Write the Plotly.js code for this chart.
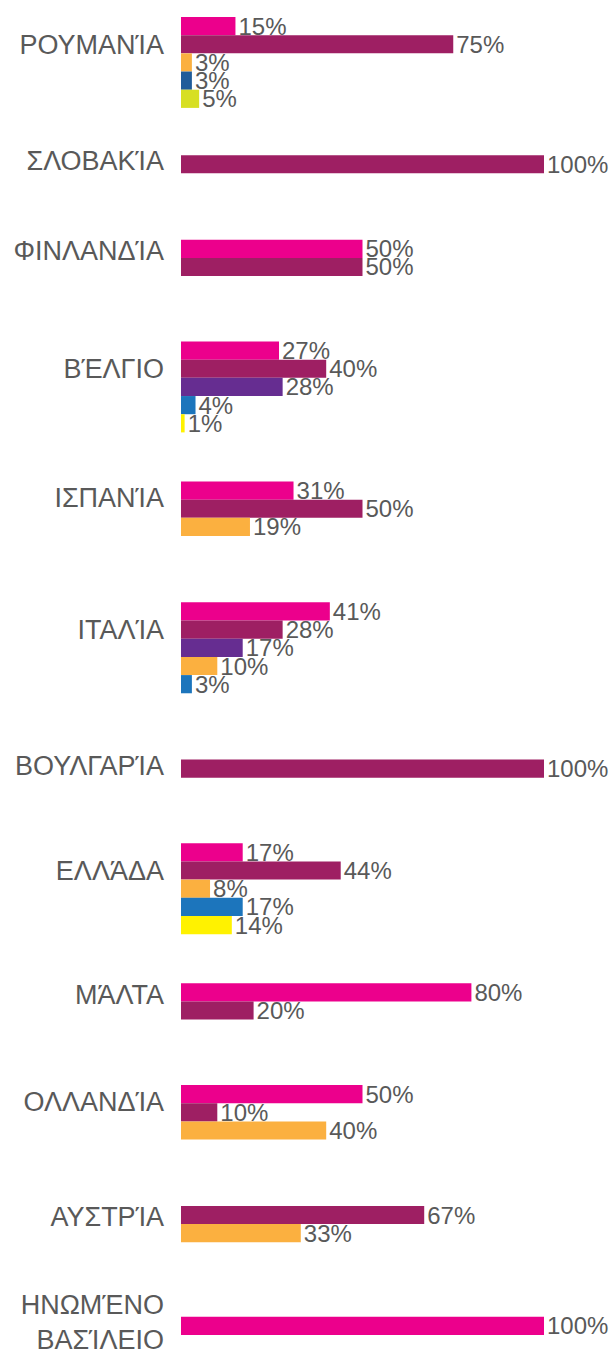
<!DOCTYPE html>
<html>
<head>
<meta charset="utf-8">
<script src="https://cdn.plot.ly/plotly-3.0.1.min.js"></script>
<style>html,body{margin:0;padding:0;background:#fff;}#chart{width:613px;height:1360px;}</style>
</head>
<body>
<div id="chart"></div>
<script>
// ---- data ----
const categories = ["ΡΟΥΜΑΝΊΑ", "ΣΛΟΒΑΚΊΑ", "ΦΙΝΛΑΝΔΊΑ", "ΒΈΛΓΙΟ", "ΙΣΠΑΝΊΑ", "ΙΤΑΛΊΑ", "ΒΟΥΛΓΑΡΊΑ", "ΕΛΛΆΔΑ", "ΜΆΛΤΑ", "ΟΛΛΑΝΔΊΑ", "ΑΥΣΤΡΊΑ", "ΗΝΩΜΈΝΟ<br>ΒΑΣΊΛΕΙΟ"];
const seriesNames = ["Σειρά 1", "Σειρά 2", "Σειρά 3", "Σειρά 4", "Σειρά 5", "Σειρά 6", "Σειρά 7", "Σειρά 8"];
const magentaVals = [15, 0, 50, 27, 31, 41, 0, 17, 80, 50, 0, 100];
const darkVals    = [75, 100, 50, 40, 50, 28, 100, 44, 20, 10, 67, 0];
const purpleVals  = [0, 0, 0, 28, 0, 17, 0, 0, 0, 0, 0, 0];
const orangeVals  = [3, 0, 0, 0, 19, 10, 0, 8, 0, 40, 33, 0];
const blueVals    = [0, 0, 0, 4, 0, 3, 0, 17, 0, 0, 0, 0];
const navyVals    = [3, 0, 0, 0, 0, 0, 0, 0, 0, 0, 0, 0];
const limeVals    = [5, 0, 0, 0, 0, 0, 0, 0, 0, 0, 0, 0];
const yellowVals  = [0, 0, 0, 1, 0, 0, 0, 14, 0, 0, 0, 0];

// ---- styles / layout ----
const seriesValues = [magentaVals, darkVals, purpleVals, orangeVals, blueVals, navyVals, limeVals, yellowVals];
const seriesColors = ["#EC008C", "#9E1F63", "#662D91", "#FBB040", "#1C75BC", "#1F5C9A", "#D7DF23", "#FFF200"];
const groupGapRows = [2.6, 3.65, 3.6, 2.7, 3.65, 3.65, 3.6, 2.7, 3.6, 3.65, 4.1];
const textColor = "#595959";
const fontFam = "Liberation Sans, Arial, Helvetica, sans-serif";

// assign each non-zero bar its own row, groups separated by gaps
const traceY = seriesValues.map(() => []);
const traceX = seriesValues.map(() => []);
const tickVals = [];
let pos = 0;
categories.forEach((cat, i) => {
  if (i > 0) pos += groupGapRows[i - 1];
  const start = pos;
  let n = 0;
  seriesValues.forEach((vals, s) => {
    if (vals[i] > 0) {
      traceY[s].push(pos + 0.5);
      traceX[s].push(vals[i]);
      pos += 1; n += 1;
    }
  });
  const center = (start + pos) / 2;
  tickVals.push(center - 0.2 * (n - 1) - 0.2);
});

const traces = seriesValues.map((vals, s) => ({
  type: "bar",
  orientation: "h",
  name: seriesNames[s],
  x: traceX[s],
  y: traceY[s],
  width: 1,
  marker: {color: seriesColors[s], line: {width: 0}},
  texttemplate: "%{x}%",
  textposition: "outside",
  constraintext: "none",
  cliponaxis: false,
  textfont: {family: fontFam, size: 24, color: textColor},
  hoverinfo: "none",
  showlegend: false
}));

const layout = {
  width: 613,
  height: 1360,
  margin: {l: 181, r: 69, t: 17, b: 25},
  paper_bgcolor: "#ffffff",
  plot_bgcolor: "#ffffff",
  barmode: "overlay",
  showlegend: false,
  xaxis: {range: [0, 100], visible: false, fixedrange: true},
  yaxis: {
    range: [pos, 0],
    tickmode: "array",
    tickvals: tickVals,
    ticktext: categories,
    ticks: "",
    ticklabelstandoff: 16,
    showgrid: false,
    zeroline: false,
    showline: false,
    tickfont: {family: fontFam, size: 27, color: textColor},
    fixedrange: true
  }
};

Plotly.newPlot("chart", traces, layout, {displayModeBar: false, staticPlot: true});
</script>
</body>
</html>
